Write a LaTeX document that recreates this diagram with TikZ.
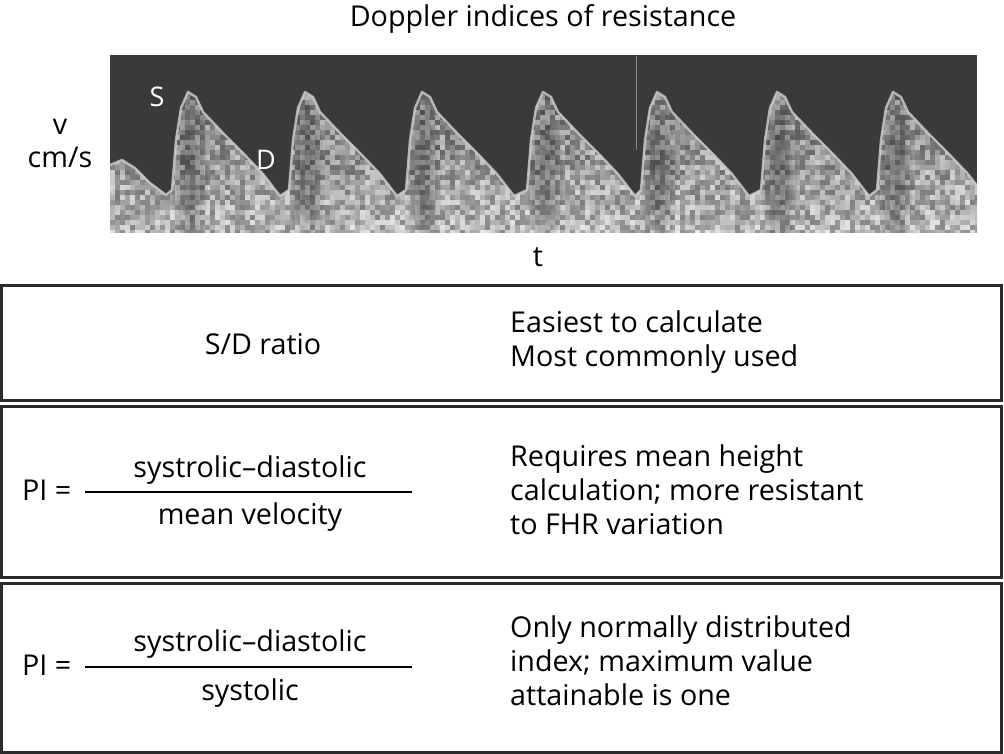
\documentclass[tikz,border=0pt]{standalone}
\usepackage{fontspec}
\setmainfont{Open Sans}
\definecolor{scopebg}{HTML}{3A3A3A}
\definecolor{framec}{HTML}{2A2A2A}
\definecolor{traceedge}{HTML}{CFCFCF}
\begin{document}
\begin{tikzpicture}[x=1pt,y=-1pt,
  lbl/.style={font=\fontsize{28.7}{34}\selectfont, inner sep=0pt, text=black},
  wlbl/.style={font=\fontsize{27}{32}\selectfont, inner sep=0pt, text=white},
  panel/.style={draw=framec, line width=3pt},
  fracrule/.style={draw=black, line width=1.8pt}]
\useasboundingbox (0,0) rectangle (1004,754);

% title
\node[lbl, anchor=base] (title) at (543,27) {Doppler indices of resistance};

% Doppler spectrum
\fill[scopebg] (110,55) rectangle (977,233);
\begin{scope}
  \clip (110,55) rectangle (977,233);
  \begin{scope}
    \clip (110,233) -- (110,165) -- (122,160) -- (135,168) -- (150,183) -- (166,195)
      \foreach \p in {188,305,422,543,657,777,893} {
        -- (\p-16,190) -- (\p-12,140) -- (\p-7,108) -- (\p,92) -- (\p+8,97) -- (\p+15,112)
        -- (\p+35,133) -- (\p+55,153) -- (\p+75,174) -- (\p+92,196)
      } -- (990,196) -- (990,233) -- cycle;
    \pgfmathsetseed{11}
    \foreach \j in {0,...,29} {
      \foreach \i in {0,...,173} {
        \pgfmathsetmacro\g{30+38*rnd+\j*0.8}
        \fill[white!\g!black] (110+\i*5,85+\j*5) rectangle ++(5,5);
      }
    }
    % darker cores under the systolic peaks (soft edges)
    \foreach \p in {188,305,422,543,657,777,893} {
      \foreach \r in {6,10,14,18} {
        \fill[black, opacity=0.08] (\p+2,178) ellipse [x radius=\r, y radius=3.5*\r+10];
      }
    }
  \end{scope}
  \draw[traceedge, line width=2.4pt, line join=round, opacity=0.8]
    (110,165) -- (122,160) -- (135,168) -- (150,183) -- (166,195)
      \foreach \p in {188,305,422,543,657,777,893} {
        -- (\p-16,190) -- (\p-12,140) -- (\p-7,108) -- (\p,92) -- (\p+8,97) -- (\p+15,112)
        -- (\p+35,133) -- (\p+55,153) -- (\p+75,174) -- (\p+92,196)
      } -- (990,196);
  \draw[white!40!scopebg, line width=1pt] (636,56) -- (636,150);
\end{scope}

\node[wlbl, anchor=base] (S) at (157,107) {S};
\node[wlbl, anchor=base] (D) at (266,170) {D};
\node[lbl, anchor=base] (v) at (60,135) {v};
\node[lbl, anchor=base] (cms) at (60,168) {cm/s};
\node[lbl, anchor=base] (t) at (538,266) {t};

% panels
\draw[panel] (1.5,285) rectangle (1001.5,400);
\draw[panel] (1.5,406) rectangle (1001.5,577);
\draw[panel] (1.5,583) rectangle (1001.5,752);

% panel 1
\node[lbl, anchor=base] (sd) at (263,354) {S/D ratio};
\node[lbl, anchor=base west] (e1) at (510,332) {Easiest to calculate};
\node[lbl, anchor=base west] (e2) at (510,366) {Most commonly used};

% panel 2
\node[lbl, anchor=base west] (pi1) at (22,500) {PI =};
\draw[fracrule] (85,492) coordinate (r1a) -- (412,492) coordinate (r1b);
\node[lbl, anchor=base] (num1) at (250,477) {systrolic–diastolic};
\node[lbl, anchor=base] (den1) at (250,524) {mean velocity};
\node[lbl, anchor=base west] (f1) at (510,466) {Requires mean height};
\node[lbl, anchor=base west] (f2) at (510,500) {calculation; more resistant};
\node[lbl, anchor=base west] (f3) at (510,534) {to FHR variation};

% panel 3
\node[lbl, anchor=base west] (pi2) at (22,675) {PI =};
\draw[fracrule] (85,667) coordinate (r2a) -- (412,667) coordinate (r2b);
\node[lbl, anchor=base] (num2) at (250,651) {systrolic–diastolic};
\node[lbl, anchor=base] (den2) at (250,700) {systolic};
\node[lbl, anchor=base west] (g1) at (510,637) {Only normally distributed};
\node[lbl, anchor=base west] (g2) at (510,671) {index; maximum value};
\node[lbl, anchor=base west] (g3) at (510,705) {attainable is one};
\end{tikzpicture}
\end{document}
